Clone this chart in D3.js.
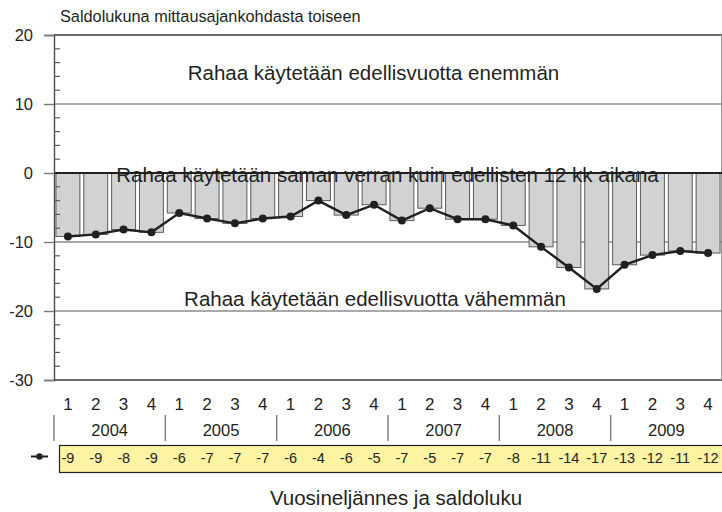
<!DOCTYPE html>
<html>
<head>
<meta charset="utf-8">
<script src="https://cdn.jsdelivr.net/npm/d3@7"></script>
<style>
  html, body { margin: 0; padding: 0; background: #fff; }
  svg { display: block; }
  .lbl { font-family: "Liberation Sans", Arial, Helvetica, sans-serif; fill: #231f20; }
</style>
</head>
<body>
<svg id="chart" width="722" height="512"></svg>
<script>
// Quarterly balance figures, 2004–2009
const years = ["2004", "2005", "2006", "2007", "2008", "2009"];
const quarters = ["1", "2", "3", "4"];
const saldo = [
  -9.2, -8.9, -8.2, -8.6,
  -5.8, -6.6, -7.3, -6.6,
  -6.3, -4.0, -6.1, -4.6,
  -6.9, -5.1, -6.7, -6.7,
  -7.6, -10.7, -13.7, -16.8,
  -13.3, -11.9, -11.3, -11.6
];
const yTicks = [20, 10, 0, -10, -20, -30];
const titleText = "Saldolukuna mittausajankohdasta toiseen";
const xTitleText = "Vuosineljännes ja saldoluku";
const zoneTexts = [
  { text: "Rahaa käytetään edellisvuotta enemmän", value: 13.5 },
  { text: "Rahaa käytetään saman verran kuin edellisten 12 kk aikana", value: -1.3 },
  { text: "Rahaa käytetään edellisvuotta vähemmän", value: -19.3 }
];

const periods = [];
years.forEach(yr => quarters.forEach(q => periods.push(yr + "-" + q)));
const data = periods.map((p, i) => ({ key: p, year: p.split("-")[0], q: p.split("-")[1], value: saldo[i] }));

// Plain hyphen for negatives, as printed on the axis and in the table
const fmt = v => String(Math.round(v));

const svg = d3.select("#chart");
const mLeft = 54, mRight = 722, mTop = 35, mBottom = 380;

const x = d3.scaleBand().domain(periods).range([mLeft, mRight]).paddingInner(0.14).paddingOuter(0.07);
const y = d3.scaleLinear().domain([-30, 20]).range([mBottom, mTop]);
const cx = d => x(d.key) + x.bandwidth() / 2;

// Title
svg.append("text").attr("class", "lbl")
  .attr("x", 60).attr("y", 22).attr("font-size", 16.3)
  .text(titleText);

// Horizontal grid lines
svg.append("g").selectAll("line").data(yTicks.filter(d => d !== 0 && d !== 20 && d !== -30)).join("line")
  .attr("x1", mLeft).attr("x2", mRight)
  .attr("y1", d => y(d)).attr("y2", d => y(d))
  .attr("stroke", "#8c8c8c").attr("stroke-width", 1.4);

// Plot frame: top, bottom, right
svg.append("line").attr("x1", mLeft).attr("x2", mRight).attr("y1", y(20)).attr("y2", y(20))
  .attr("stroke", "#3c3c3c").attr("stroke-width", 1.4);
svg.append("line").attr("x1", mLeft).attr("x2", mRight).attr("y1", y(-30)).attr("y2", y(-30))
  .attr("stroke", "#3c3c3c").attr("stroke-width", 1.4);
svg.append("line").attr("x1", mRight - 0.5).attr("x2", mRight - 0.5).attr("y1", y(20)).attr("y2", y(-30))
  .attr("stroke", "#9a9a9a").attr("stroke-width", 1);

// Bars
svg.append("g").selectAll("rect").data(data).join("rect")
  .attr("x", d => x(d.key))
  .attr("width", x.bandwidth())
  .attr("y", d => y(Math.max(0, d.value)))
  .attr("height", d => Math.abs(y(d.value) - y(0)))
  .attr("fill", "#d1d2d4")
  .attr("stroke", "#5a5a5a").attr("stroke-width", 1);

// Zone labels
svg.append("g").selectAll("text").data(zoneTexts).join("text")
  .attr("class", "lbl")
  .attr("x", (d, i) => [373.5, 387.5, 375][i])
  .attr("y", d => y(d.value))
  .attr("text-anchor", "middle")
  .attr("font-size", 20.5)
  .text(d => d.text);

// Zero line
svg.append("line").attr("x1", mLeft).attr("x2", mRight).attr("y1", y(0)).attr("y2", y(0))
  .attr("stroke", "#231f20").attr("stroke-width", 2);

// Line + markers
const line = d3.line().x(cx).y(d => y(d.value));
svg.append("path").datum(data).attr("d", line)
  .attr("fill", "none").attr("stroke", "#231f20").attr("stroke-width", 2.4);
svg.append("g").selectAll("circle").data(data).join("circle")
  .attr("cx", cx)
  .attr("cy", d => y(d.value))
  .attr("r", 4).attr("fill", "#231f20");

// Y axis
const yAxis = d3.axisLeft(y).tickValues(yTicks).tickSize(10).tickPadding(11).tickFormat(fmt);
const ga = svg.append("g").attr("transform", `translate(${mLeft},0)`).call(yAxis);
ga.attr("font-family", null).attr("font-size", null);
ga.select(".domain").attr("stroke", "#4a4a4a").attr("stroke-width", 1.4);
ga.selectAll(".tick line").attr("stroke", "#7a7a7a").attr("stroke-width", 1.4);
ga.selectAll(".tick text").attr("class", "lbl").attr("font-size", 16.5).attr("fill", "#231f20");

// Minor ticks inside the plot
const minor = d3.range(-28, 20, 2).filter(v => v % 10 !== 0);
svg.append("g").selectAll("line").data(minor).join("line")
  .attr("x1", mLeft).attr("x2", mLeft + 6)
  .attr("y1", d => y(d)).attr("y2", d => y(d))
  .attr("stroke", "#5a5a5a").attr("stroke-width", 1.2);

// Quarter labels
svg.append("g").selectAll("text").data(data).join("text")
  .attr("class", "lbl")
  .attr("x", cx)
  .attr("y", 410).attr("text-anchor", "middle").attr("font-size", 17)
  .text(d => d.q);

// Year separators and labels
const step = x.step();
svg.append("g").selectAll("line").data(years).join("line")
  .attr("x1", (d, i) => mLeft + i * 4 * step).attr("x2", (d, i) => mLeft + i * 4 * step)
  .attr("y1", 415).attr("y2", 441)
  .attr("stroke", "#7a7a7a").attr("stroke-width", 1.4);
svg.append("g").selectAll("text").data(years).join("text")
  .attr("class", "lbl")
  .attr("x", (d, i) => mLeft + (i * 4 + 2) * step)
  .attr("y", 436).attr("text-anchor", "middle").attr("font-size", 16.5)
  .text(d => d);

// Value table row
svg.append("rect").attr("x", 59.5).attr("y", 445.5).attr("width", 680).attr("height", 27)
  .attr("fill", "#fdf4a3").attr("stroke", "#231f20").attr("stroke-width", 1.2);
svg.append("g").selectAll("text").data(data).join("text")
  .attr("class", "lbl")
  .attr("x", cx)
  .attr("y", 462.5).attr("text-anchor", "middle").attr("font-size", 14.5)
  .text(d => fmt(d.value));

// Legend key for the line series
svg.append("line").attr("x1", 31).attr("x2", 48).attr("y1", 456.5).attr("y2", 456.5)
  .attr("stroke", "#231f20").attr("stroke-width", 2);
svg.append("circle").attr("cx", 39.5).attr("cy", 456.5).attr("r", 3.2).attr("fill", "#231f20");

// X title
svg.append("text").attr("class", "lbl")
  .attr("x", 396).attr("y", 505).attr("text-anchor", "middle").attr("font-size", 20.5)
  .text(xTitleText);
</script>
</body>
</html>
